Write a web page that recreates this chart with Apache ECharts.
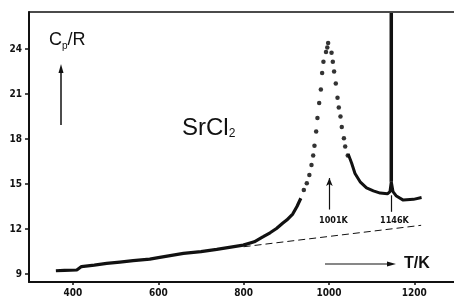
<!DOCTYPE html>
<html>
<head>
<meta charset="utf-8">
<script src="https://cdn.jsdelivr.net/npm/echarts@6/dist/echarts.min.js"></script>
<style>
  html, body { margin: 0; background: #fff; }
  #chart { width: 454px; height: 304px; }
</style>
</head>
<body>
<div id="chart"></div>
<script>
// values: T in K, Cp/R
const xTicks = [400, 600, 800, 1000, 1200]
const yTicks = [9, 12, 15, 18, 21, 24]

// dense part of the run (dots merge into a thick line)
const riseRun = [
  [360, 9.22], [380, 9.25], [409, 9.27], [420, 9.5], [450, 9.6], [479, 9.71],
  [510, 9.8], [541, 9.89], [580, 10.0], [600, 10.1], [659, 10.38], [700, 10.5],
  [737, 10.65], [770, 10.8], [799, 10.93], [825, 11.15], [846, 11.49],
  [862, 11.75], [877, 12.04], [892, 12.4], [901, 12.6], [915, 13.0],
  [925, 13.5], [934, 14.05],
]

// separate dots around the lambda peak
const peakDots = [
  [941, 14.6], [948, 15.05], [954, 15.6], [959, 16.27], [963, 16.9],
  [966, 17.55], [970, 18.5], [973, 19.4], [977, 20.4], [981, 21.3],
  [984, 22.4], [987, 23.15], [993, 23.8], [996, 24.1], [998, 24.4],
  [1006, 23.75], [1009, 23.15], [1012, 22.5], [1016, 21.7], [1020, 20.75],
  [1023, 20.1], [1027, 19.5], [1030, 18.8], [1035, 18.05], [1038, 17.5],
  [1044, 16.9],
]

// dense tail above the peak, with the small bump at 1146 K
const tailRun = [
  [1045, 17.0], [1053, 16.4], [1061, 15.7], [1073, 15.15], [1088, 14.75],
  [1104, 14.55], [1120, 14.4], [1137, 14.35], [1143, 14.5], [1146, 15.15],
  [1150, 14.5], [1158, 14.2], [1174, 13.93], [1190, 13.97], [1198, 13.98],
  [1217, 14.1],
]

// melting spike at 1146 K, runs off the top
const spike = [[1146, 15.15], [1146, 26.4]]

// extrapolated lattice baseline (thin dashed)
const baseline = [[800, 10.82], [1216, 12.25]]

const ink = '#111'
const narrow = '"Liberation Sans Narrow", "DejaVu Sans Condensed", sans-serif'
const tickFont = {
  color: ink,
  fontFamily: narrow,
  fontWeight: 'bold',
  fontSize: 10,
  formatter: v => String(v),
}

const chart = echarts.init(document.getElementById('chart'))
chart.setOption({
  animation: false,
  grid: { left: 29, right: 0, top: 12, bottom: 22 },
  xAxis: [
    {
      type: 'value',
      min: 297,
      max: 1293,
      splitLine: { show: false },
      axisLine: { lineStyle: { color: ink, width: 2 } },
      axisTick: { customValues: xTicks, length: 3, lineStyle: { color: ink, width: 1.5 } },
      axisLabel: { customValues: xTicks, margin: 6, ...tickFont },
    },
    {
      type: 'value',
      position: 'top',
      min: 297,
      max: 1293,
      splitLine: { show: false },
      axisLine: { lineStyle: { color: ink, width: 1.5 } },
      axisTick: { show: false },
      axisLabel: { show: false },
    },
  ],
  yAxis: {
    type: 'value',
    min: 8.47,
    max: 26.47,
    splitLine: { show: false },
    axisLine: { lineStyle: { color: ink, width: 2 } },
    axisTick: { customValues: yTicks, length: 4, lineStyle: { color: ink, width: 1.5 } },
    axisLabel: { customValues: yTicks, margin: 7, ...tickFont },
  },
  series: [
    {
      type: 'line',
      data: baseline,
      symbol: 'none',
      lineStyle: { color: ink, width: 1, type: [7, 4] },
      markLine: {
        silent: true,
        symbol: ['none', 'none'],
        label: { show: false },
        lineStyle: { color: ink, width: 1.2, type: 'solid' },
        data: [
          [{ coord: [1001, 13.3] }, { coord: [1001, 15.4], symbol: 'arrow', symbolSize: [5, 8] }],
          [{ coord: [1146, 13.15] }, { coord: [1146, 14.25] }],
        ],
      },
    },
    {
      type: 'line',
      data: riseRun,
      symbol: 'none',
      lineStyle: { color: ink, width: 3.2 },
    },
    {
      type: 'scatter',
      data: peakDots,
      symbol: 'circle',
      symbolSize: 4.5,
      itemStyle: { color: '#000' },
    },
    {
      type: 'line',
      data: tailRun,
      symbol: 'none',
      lineStyle: { color: ink, width: 3 },
    },
    {
      type: 'line',
      data: spike,
      symbol: 'none',
      lineStyle: { color: ink, width: 3.5 },
    },
  ],
  graphic: [
    {
      type: 'text',
      left: 49,
      top: 31,
      style: {
        text: '{a|C}{b|p}{a|/R}',
        rich: {
          a: { fontSize: 18, fontFamily: '"Liberation Sans", sans-serif', fill: ink },
          b: { fontSize: 10, fontFamily: '"Liberation Sans", sans-serif', fill: ink, padding: [12, 0, 0, 0] },
        },
      },
    },
    // Cp/R arrow
    { type: 'line', shape: { x1: 61, y1: 125, x2: 61, y2: 70 }, style: { stroke: ink, lineWidth: 1.5 } },
    { type: 'polygon', shape: { points: [[61, 64], [58.5, 73], [63.5, 73]] }, style: { fill: ink } },
    {
      type: 'text',
      left: 182,
      top: 116,
      style: {
        text: '{a|SrCl}{b|2}',
        rich: {
          a: { fontSize: 24, fontFamily: '"Liberation Sans", sans-serif', fill: ink },
          b: { fontSize: 12, fontFamily: '"Liberation Sans", sans-serif', fill: ink, padding: [12, 0, 0, 0] },
        },
      },
    },
    // T/K arrow
    { type: 'line', shape: { x1: 325, y1: 264, x2: 390, y2: 264 }, style: { stroke: ink, lineWidth: 1.2 } },
    { type: 'polygon', shape: { points: [[396, 264], [387, 261.5], [387, 266.5]] }, style: { fill: ink } },
    {
      type: 'text',
      left: 404,
      top: 256,
      style: { text: 'T/K', fontSize: 16, fontWeight: 'bold', fontFamily: '"Liberation Sans", sans-serif', fill: ink },
    },
    {
      type: 'text',
      left: 319,
      top: 216,
      style: { text: '1001K', fontSize: 9, fontWeight: 'bold', fontFamily: narrow, fill: ink },
    },
    {
      type: 'text',
      left: 380,
      top: 216,
      style: { text: '1146K', fontSize: 9, fontWeight: 'bold', fontFamily: narrow, fill: ink },
    },
  ],
})
</script>
</body>
</html>
